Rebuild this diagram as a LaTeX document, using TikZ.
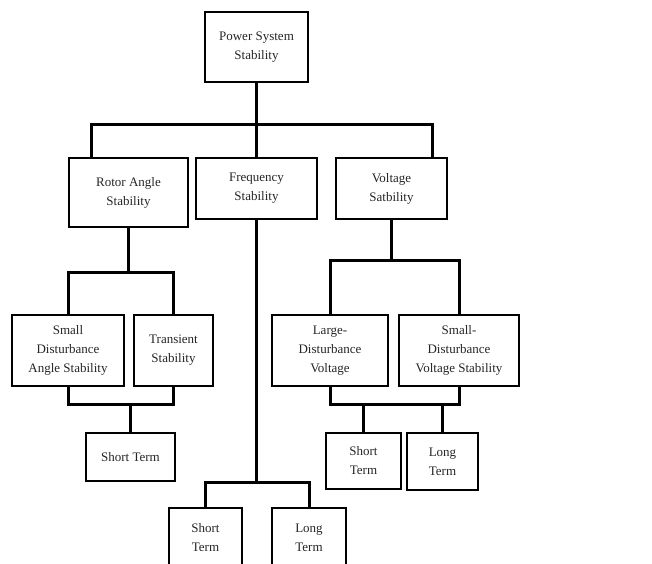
\documentclass[tikz,border=0pt]{standalone}
\usepackage{fontspec}
\setmainfont{Liberation Serif}

\def\bw{1.4pt}
\def\lw{3pt}

\begin{document}
\begin{tikzpicture}[x=1pt, y=-1pt,
        block/.style={draw, line width=\bw, align=center, inner sep=0pt,
            text=black!85, font=\fontsize{13}{19}\selectfont},
        link/.style={line width=\lw}]
    \clip (0, 0) rectangle (652, 563);
    \fill[white] (0, 0) rectangle (652, 563);

    % top level
    \node[block, minimum width=103, minimum height=70] (pss) at (256.5, 47) {Power System\\Stability};

    % second level
    \node[block, minimum width=119, minimum height=69] (rotor) at (128.5, 192.5) {Rotor Angle\\Stability};
    \node[block, minimum width=121, minimum height=61] (freq) at (256.5, 188.5) {Frequency\\Stability};
    \node[block, minimum width=111, minimum height=61] (volt) at (391.5, 188.5) {Voltage\\Satbility};

    % rotor angle branch
    \node[block, minimum width=112, minimum height=71] (sda) at (68, 350.5) {Small\\Disturbance\\Angle Stability};
    \node[block, minimum width=79, minimum height=71] (trans) at (173.5, 350.5) {Transient\\Stability};
    \node[block, minimum width=89, minimum height=48] (stA) at (130.5, 457) {Short Term};

    % frequency branch
    \node[block, minimum width=73, minimum height=59] (stF) at (205.5, 537.5) {Short\\Term};
    \node[block, minimum width=74, minimum height=59] (ltF) at (309, 537.5) {Long\\Term};

    % voltage branch
    \node[block, minimum width=116, minimum height=71] (ldv) at (330, 350.5) {Large-\\Disturbance\\Voltage};
    \node[block, minimum width=120, minimum height=71] (sdv) at (459, 350.5) {Small-\\Disturbance\\Voltage Stability};
    \node[block, minimum width=75, minimum height=56] (stV) at (363.5, 461) {Short\\Term};
    \node[block, minimum width=71, minimum height=57] (ltV) at (442.5, 461.5) {Long\\Term};

    % buses
    \coordinate (bus1) at (256.5, 124);
    \coordinate (bus2) at (128.5, 272);
    \coordinate (bus3) at (130.5, 404);
    \coordinate (bus4) at (256.5, 482);
    \coordinate (bus5) at (391.5, 260);
    \coordinate (bus6) at (364, 404);

    % connectors
    \draw[link] (pss.south) -- (bus1);
    \draw[link] ([xshift=-37.5pt]rotor.north) |- (bus1) -| ([xshift=40.5pt]volt.north);
    \draw[link] (bus1) -- (freq.north);

    \draw[link] (rotor.south) -- (bus2);
    \draw[link] (sda.north) |- (bus2) -| (trans.north);
    \draw[link] (sda.south) |- (bus3) -| (trans.south);
    \draw[link] (bus3) -- (stA.north);

    \draw[link] (freq.south) -- (bus4);
    \draw[link] (stF.north) |- (bus4) -| (ltF.north);

    \draw[link] (volt.south) -- (bus5);
    \draw[link] (ldv.north) |- (bus5) -| (sdv.north);
    \draw[link] (ldv.south) |- (bus6) -| (sdv.south);
    \draw[link] (stV.north) -- (stV.north |- bus6);
    \draw[link] (ltV.north) -- (ltV.north |- bus6);
\end{tikzpicture}
\end{document}
